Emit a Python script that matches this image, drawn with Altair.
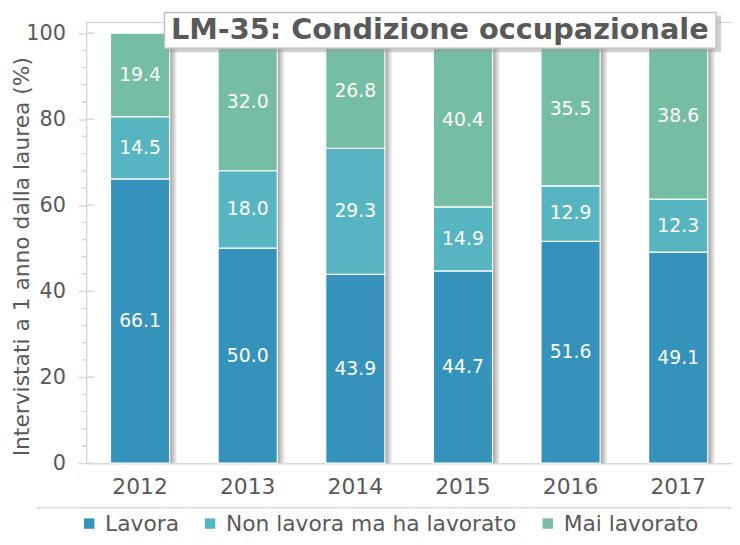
import altair as alt
import pandas as pd

years = ["2012", "2013", "2014", "2015", "2016", "2017"]
lavora = [66.1, 50.0, 43.9, 44.7, 51.6, 49.1]
non_lavora = [14.5, 18.0, 29.3, 14.9, 12.9, 12.3]
mai_lavorato = [19.4, 32.0, 26.8, 40.4, 35.5, 38.6]
categories = ["Lavora", "Non lavora ma ha lavorato", "Mai lavorato"]
colors = ["#3592BB", "#57B5C2", "#75BEA4"]
y_ticks = [0, 20, 40, 60, 80, 100]
minor_ticks = [v for v in range(4, 100, 4) if v % 20 != 0]
title_text = "LM-35: Condizione occupazionale"
y_title = "Intervistati a 1 anno dalla laurea (%)"

rows = []
for i, yr in enumerate(years):
    for k, (cat, series) in enumerate(zip(categories, [lavora, non_lavora, mai_lavorato])):
        rows.append({"year": yr, "cat": cat, "value": series[i], "ord": k})
df = pd.DataFrame(rows)
tot = pd.DataFrame({"year": years, "total": [a + b + c for a, b, c in zip(lavora, non_lavora, mai_lavorato)]})

W, H = 652, 445
FONT = "DejaVu Sans"
GRAY = "#595959"
LINE = "#d9d9d9"

xenc = alt.X("year:N", sort=years,
             scale=alt.Scale(paddingInner=0.45, paddingOuter=0.225),
             axis=alt.Axis(title=None, labelFontSize=22, labelColor=GRAY, labelFont=FONT,
                           tickSize=0, domainColor=LINE, domainWidth=1.5, labelPadding=14,
                           labelAngle=0))
yscale = alt.Scale(domain=[0, 102.5], nice=False, zero=True)

base = alt.Chart(df)

shadow = alt.Chart(tot).mark_bar(
    xOffset=8,
    color=alt.Gradient(gradient="linear",
                       stops=[alt.GradientStop(color="#a0a0a0", offset=0),
                              alt.GradientStop(color="#a0a0a0", offset=0.87),
                              alt.GradientStop(color="#ffffff", offset=1)],
                       x1=0, x2=1, y1=0, y2=0)
).encode(x=xenc, y=alt.Y("total:Q", scale=yscale))

bars = base.mark_bar(stroke="white", strokeWidth=1.2).encode(
    x=xenc,
    y=alt.Y("value:Q", stack="zero", scale=yscale,
            axis=alt.Axis(values=y_ticks, tickSize=8, tickColor=LINE, tickWidth=1.5,
                          domainColor=LINE, domainWidth=1.5, grid=False,
                          labelFontSize=21, labelColor=GRAY, labelFont=FONT, labelPadding=13,
                          title=y_title, titleFontSize=22, titleColor=GRAY, titleFont=FONT,
                          titleFontWeight="normal", titleX=-65, titleY=236,
                          titleBaseline="middle", titleAngle=270)),
    color=alt.Color("cat:N", sort=categories,
                    scale=alt.Scale(domain=categories, range=colors),
                    legend=alt.Legend(orient="none", legendX=-8, legendY=495,
                                      direction="horizontal", title=None,
                                      symbolType="square", symbolSize=110,
                                      symbolStrokeWidth=0, labelFontSize=22, labelLimit=0,
                                      labelColor=GRAY, labelFont=FONT, labelOffset=5,
                                      columnPadding=20)),
    order=alt.Order("ord:Q", sort="ascending"),
)

labels = base.transform_stack(
    stack="value", groupby=["year"], as_=["y0", "y1"], sort=[alt.SortField("ord", order="ascending")]
).transform_calculate(mid="(datum.y0 + datum.y1) / 2").mark_text(
    color="white", fontSize=19, font=FONT
).encode(x=xenc, y=alt.Y("mid:Q", scale=yscale), text=alt.Text("value:Q", format=".1f"))

one = pd.DataFrame({"a": [0]})
top_line = alt.Chart(one).mark_rule(color=LINE, strokeWidth=1.5).encode(
    y=alt.Y(datum=102.5, scale=yscale), x=alt.value(0), x2=alt.value(W + 20))
legend_line = alt.Chart(one).mark_rule(color=LINE, strokeWidth=1.5).encode(
    y=alt.value(490), x=alt.value(-50), x2=alt.value(W + 20))

major_in = alt.Chart(pd.DataFrame({"v": y_ticks})).mark_rule(color=LINE, strokeWidth=1.5).encode(
    y=alt.Y("v:Q", scale=yscale), x=alt.value(0), x2=alt.value(8))
minor = alt.Chart(pd.DataFrame({"v": minor_ticks})).mark_rule(color=LINE, strokeWidth=1.5).encode(
    y=alt.Y("v:Q", scale=yscale), x=alt.value(-5), x2=alt.value(0))

box_shadow = alt.Chart(one).mark_rect(color="#9a9a9a", opacity=0.45).encode(
    x=alt.value(83), x2=alt.value(641), y=alt.value(-7), y2=alt.value(30))
box = alt.Chart(one).mark_rect(fill="white", stroke="#bfbfbf", strokeWidth=1.5).encode(
    x=alt.value(79), x2=alt.value(636), y=alt.value(-10), y2=alt.value(26))
title = alt.Chart(one).mark_text(fontSize=29, fontWeight="bold", font=FONT, color=GRAY,
                                 align="center", baseline="middle").encode(
    x=alt.value(357), y=alt.value(8), text=alt.value(title_text))

chart = alt.layer(shadow, bars, labels, top_line, legend_line, major_in, minor,
                  box_shadow, box, title).resolve_scale(y="shared").properties(
    width=W, height=H, autosize="none",
    padding={"left": 79, "top": 12, "right": 0, "bottom": 73},
).configure_view(strokeWidth=0)

chart.save("out.html", embed_options={"renderer": "svg", "actions": False})
